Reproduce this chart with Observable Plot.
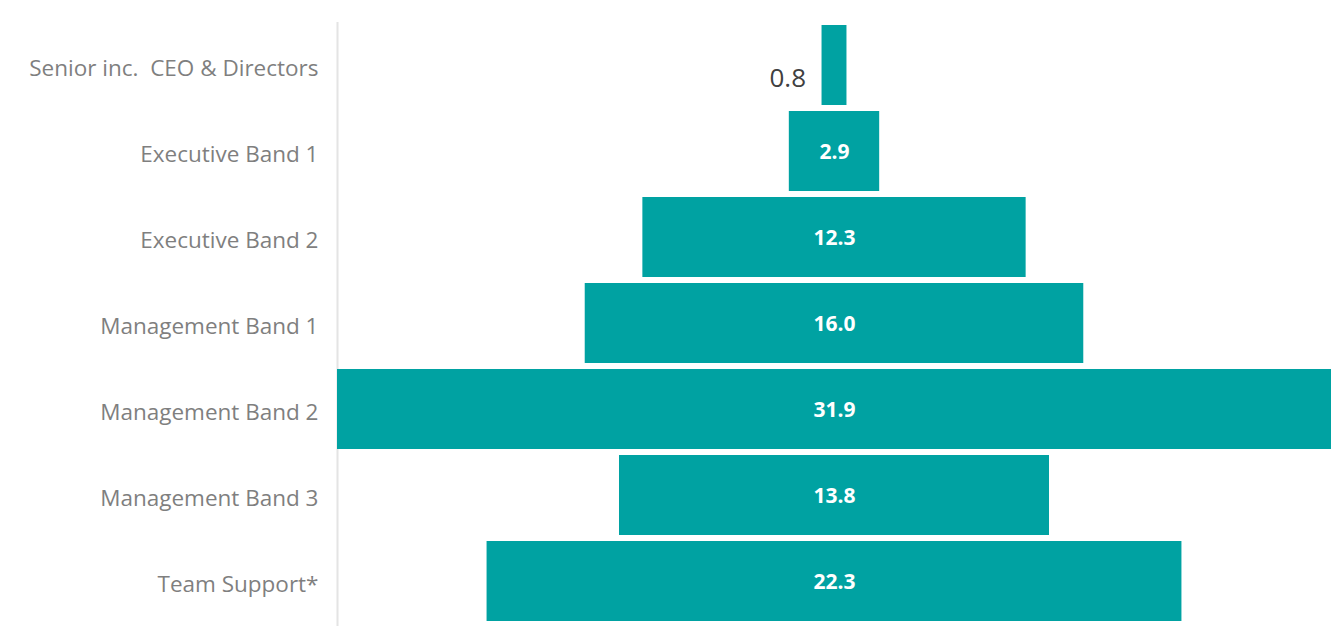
<!DOCTYPE html>
<html>
<head>
<meta charset="utf-8">
<script src="https://cdn.jsdelivr.net/npm/d3@7"></script>
<script src="https://cdn.jsdelivr.net/npm/@observablehq/plot@0.6"></script>
<style>
  html, body { margin: 0; padding: 0; background: #fff; }
  #chart svg { display: block; }
</style>
</head>
<body>
<div id="chart"></div>
<script>
const categories = [
  "Senior inc.  CEO & Directors",
  "Executive Band 1",
  "Executive Band 2",
  "Management Band 1",
  "Management Band 2",
  "Management Band 3",
  "Team Support*"
];
const values = [0.8, 2.9, 12.3, 16.0, 31.9, 13.8, 22.3];

const data = categories.map((c, i) => ({ category: c, value: values[i] }));
const half = d3.max(values) / 2;

const chart = Plot.plot({
  width: 1344,
  height: 633,
  marginLeft: 337,
  marginRight: 13,
  marginTop: 22,
  marginBottom: 9,
  style: { background: "#fff" },
  x: { domain: [-half, half], axis: null },
  y: { domain: categories, paddingInner: 0.07, paddingOuter: 0.035, label: null },
  marks: [
    Plot.ruleX([-half], { stroke: "#e4e4e4", strokeWidth: 2, insetBottom: -2 }),
    Plot.barX(data, {
      y: "category",
      x1: d => -d.value / 2,
      x2: d => d.value / 2,
      fill: "#00a2a2"
    }),
    Plot.text(data.filter(d => d.value >= 1), {
      y: "category",
      x: 0,
      dy: 1,
      text: d => d.value.toFixed(1),
      fill: "#ffffff",
      fontWeight: "bold",
      fontSize: 21,
      fontFamily: "'Open Sans', Lato, sans-serif"
    }),
    Plot.text(data.filter(d => d.value < 1), {
      y: "category",
      x: d => -d.value / 2,
      dx: -16,
      dy: 13,
      textAnchor: "end",
      text: d => d.value.toFixed(1),
      fill: "#404040",
      fontSize: 26,
      fontFamily: "'Open Sans', Lato, sans-serif"
    }),
    Plot.axisY({
      tickSize: 0,
      tickPadding: 19,
      dy: 3,
      fontSize: 22.5,
      fill: "#7f7f7f",
      fontFamily: "'Open Sans', 'Noto Sans', sans-serif",
      label: null
    })
  ]
});
document.getElementById("chart").appendChild(chart);
</script>
</body>
</html>
